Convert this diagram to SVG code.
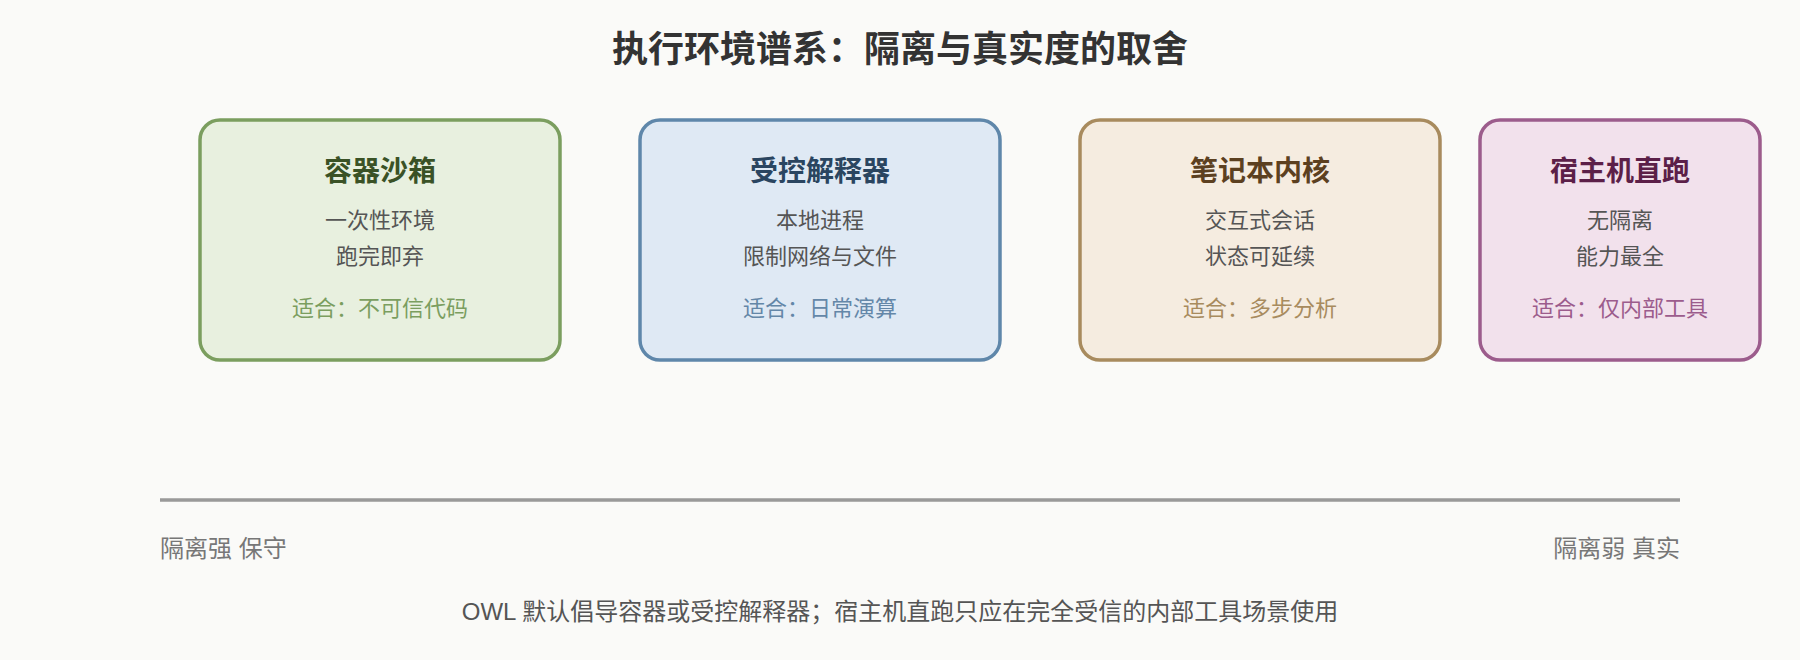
<svg xmlns="http://www.w3.org/2000/svg" width="1800" height="660" viewBox="0 0 1800 660">
<style>
text{font-family:"Liberation Sans","Noto Sans CJK SC",sans-serif;text-anchor:middle}
.title{font-size:36px;font-weight:bold;fill:#333}
.nt{font-size:28px;font-weight:bold}
.body{font-size:22px;fill:#555}
.fit{font-size:22px}
.box{stroke-width:3.5}
.axl{font-size:24px;fill:#777}
.note{font-size:24px;fill:#555}
</style>
<rect x="0" y="0" width="1800" height="660" fill="#fafaf8"/>
<text class="title" x="900" y="62">执行环境谱系：隔离与真实度的取舍</text>
<g id="node-container">
<rect class="box" x="200" y="120" width="360" height="240" rx="20" fill="#e8f0df" stroke="#7b9e5f"/>
<text class="nt" x="380" y="181" fill="#3a5226">容器沙箱</text>
<text class="body" x="380" y="228">一次性环境</text>
<text class="body" x="380" y="264">跑完即弃</text>
<text class="fit" x="380" y="316" fill="#7b9e5f">适合：不可信代码</text>
</g>
<g id="node-interpreter">
<rect class="box" x="640" y="120" width="360" height="240" rx="20" fill="#dfe9f4" stroke="#5f87aa"/>
<text class="nt" x="820" y="181" fill="#2a4560">受控解释器</text>
<text class="body" x="820" y="228">本地进程</text>
<text class="body" x="820" y="264">限制网络与文件</text>
<text class="fit" x="820" y="316" fill="#6487a8">适合：日常演算</text>
</g>
<g id="node-notebook">
<rect class="box" x="1080" y="120" width="360" height="240" rx="20" fill="#f5ece0" stroke="#a88b5e"/>
<text class="nt" x="1260" y="181" fill="#5c4020">笔记本内核</text>
<text class="body" x="1260" y="228">交互式会话</text>
<text class="body" x="1260" y="264">状态可延续</text>
<text class="fit" x="1260" y="316" fill="#a88b5e">适合：多步分析</text>
</g>
<g id="node-host">
<rect class="box" x="1480" y="120" width="280" height="240" rx="20" fill="#f2e1ec" stroke="#9c5c8c"/>
<text class="nt" x="1620" y="181" fill="#5c1f48">宿主机直跑</text>
<text class="body" x="1620" y="228">无隔离</text>
<text class="body" x="1620" y="264">能力最全</text>
<text class="fit" x="1620" y="316" fill="#9c5c8c">适合：仅内部工具</text>
</g>
<g id="connectors">
<line x1="160" y1="500" x2="1680" y2="500" stroke="#999" stroke-width="3.5"/>
</g>
<text class="axl" x="160" y="557" style="text-anchor:start">隔离强 保守</text>
<text class="axl" x="1680" y="557" style="text-anchor:end">隔离弱 真实</text>
<text class="note" x="900" y="620">OWL 默认倡导容器或受控解释器；宿主机直跑只应在完全受信的内部工具场景使用</text>
</svg>
